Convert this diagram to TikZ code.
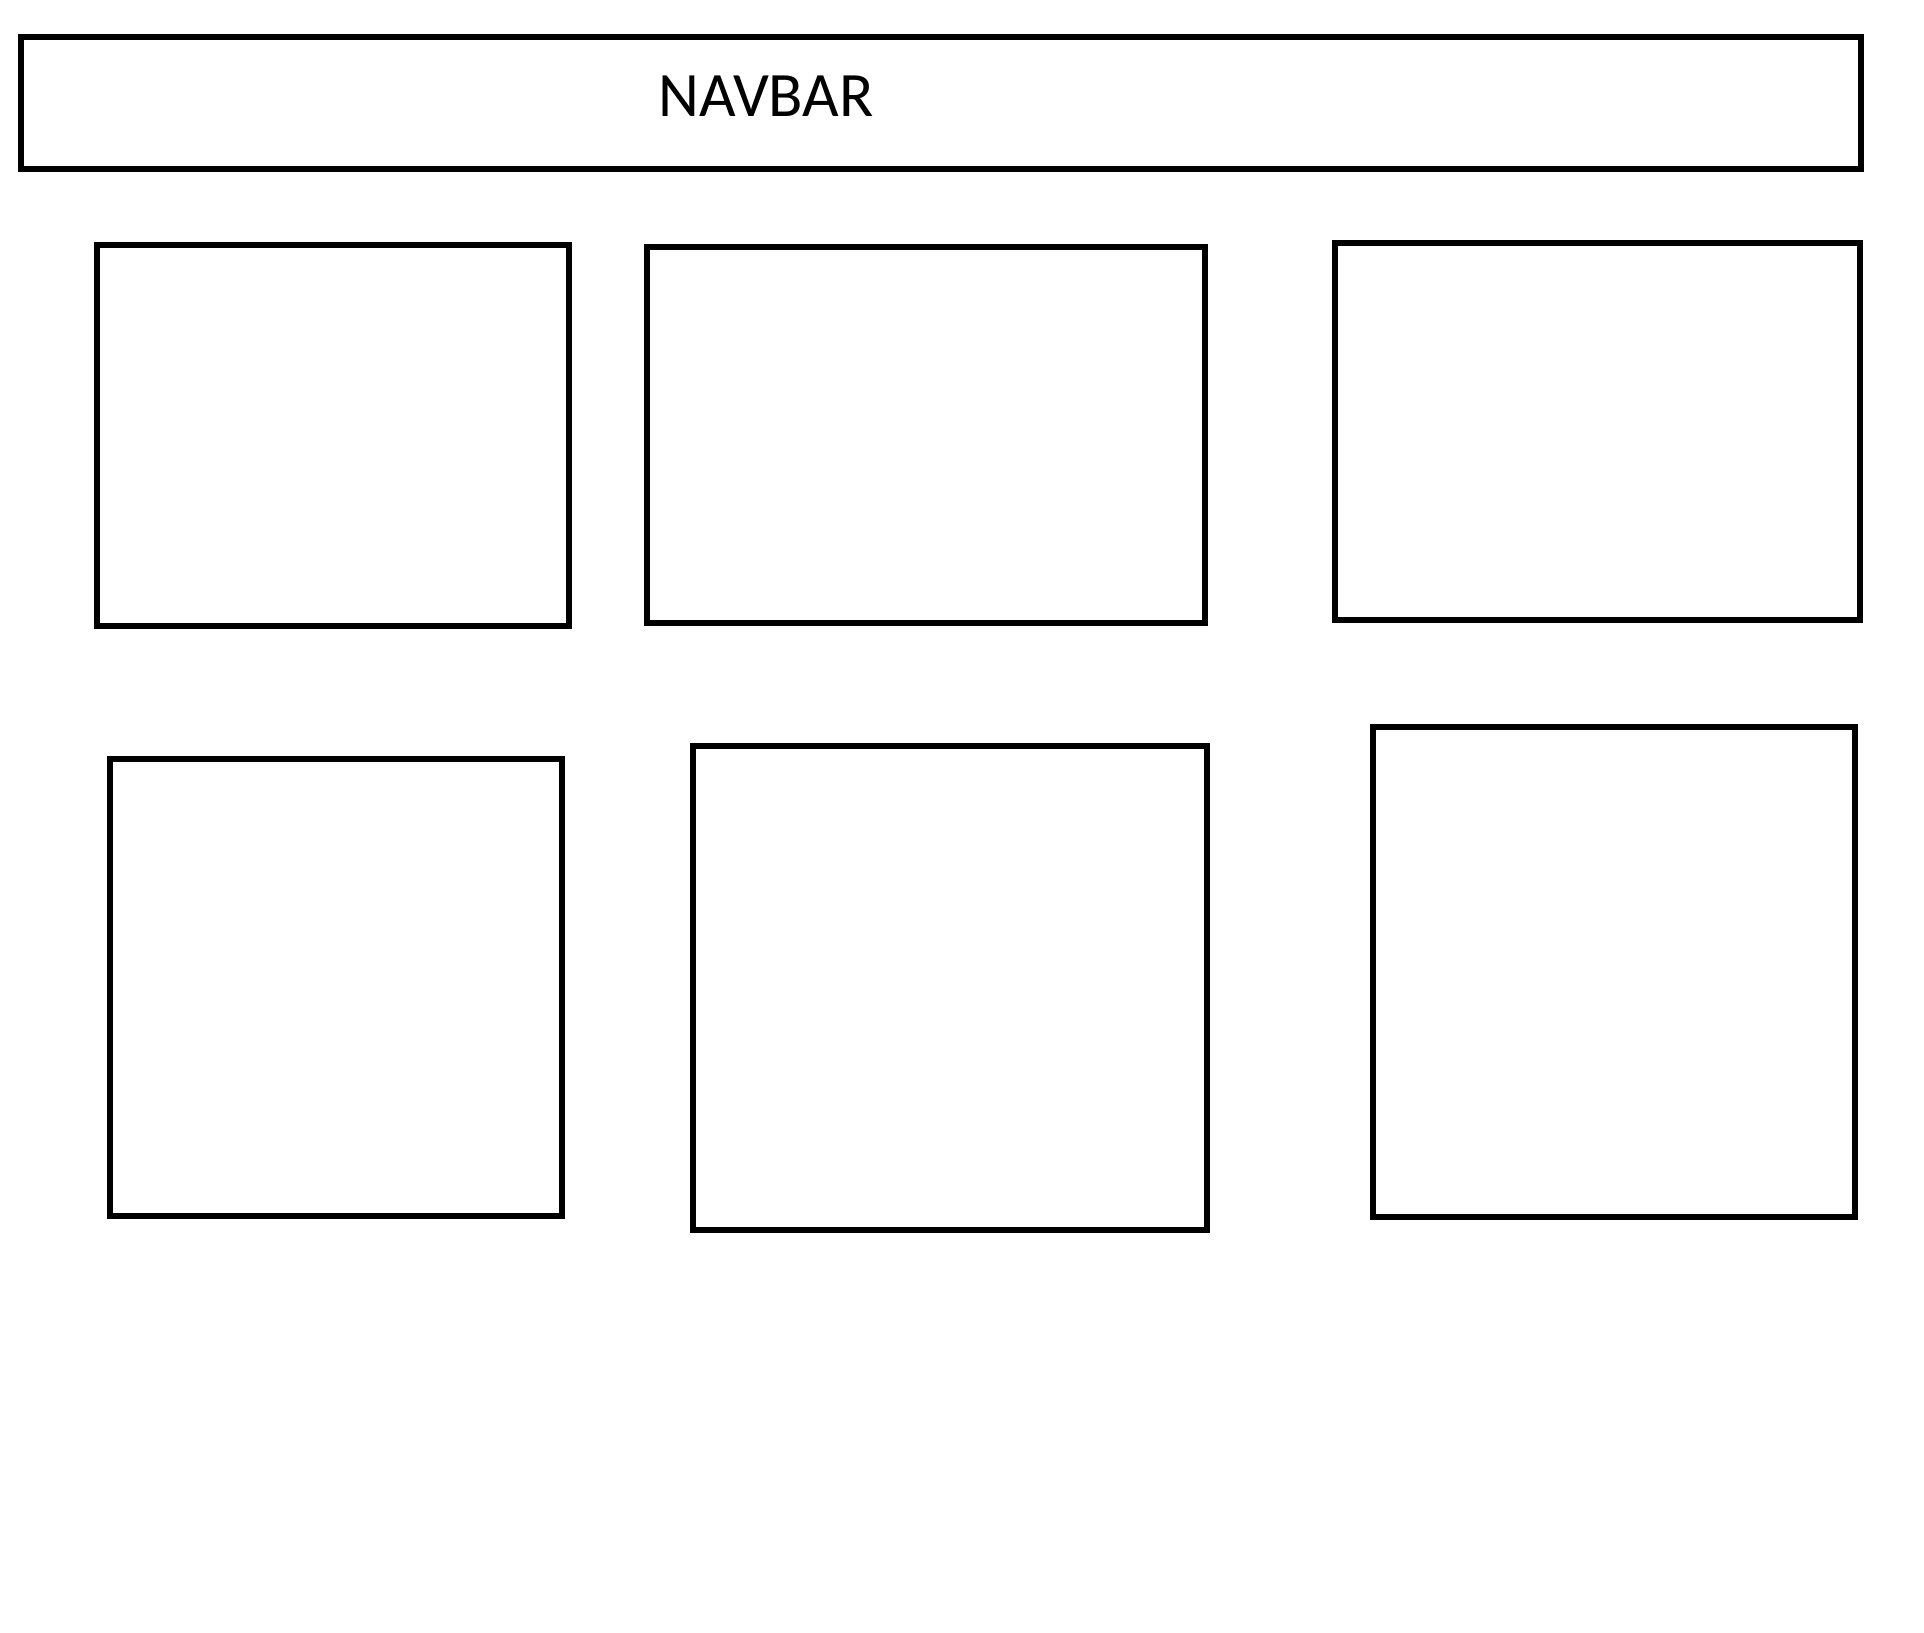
\documentclass[tikz,border=0pt]{standalone}
\usepackage{fontspec}
\setmainfont{Carlito}
\usepackage{tikz}
\usetikzlibrary{positioning}

\begin{document}
\begin{tikzpicture}[x=0.1mm, y=-0.1mm, line width=1.5pt]
  \useasboundingbox[fill=white] (0,0) rectangle (1924,1632);
  % Navbar
  \draw (21,37) rectangle (1861,169);
  \node[font=\fontsize{18}{21}\selectfont, inner sep=0pt] (navbar) at (766,96) {NAVBAR};
  % Top row
  \draw (97,245) rectangle (569,626);
  \draw (647,247) rectangle (1205,623);
  \draw (1335,243) rectangle (1860,620);
  % Bottom row
  \draw (110,759) rectangle (562,1216);
  \draw (693,746) rectangle (1207,1230);
  \draw (1373,727) rectangle (1855,1217);
\end{tikzpicture}
\end{document}
